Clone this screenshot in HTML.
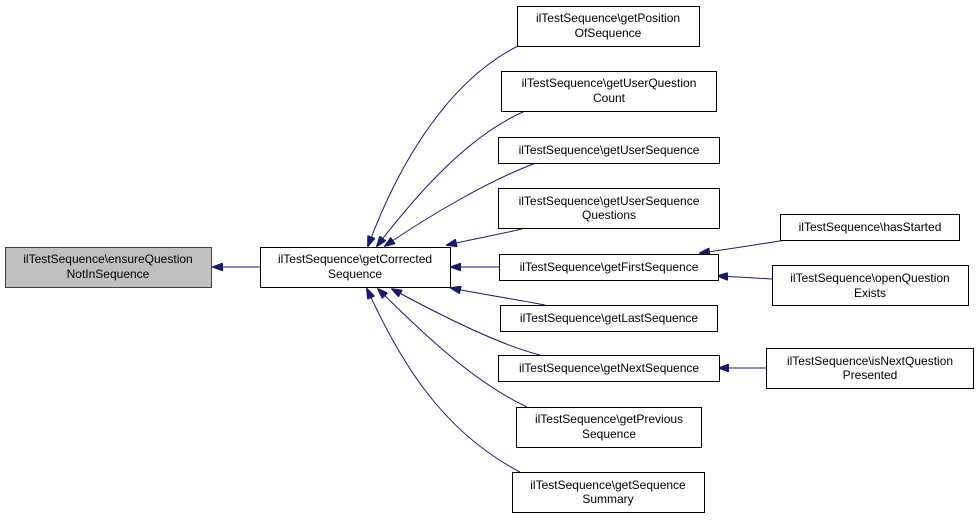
<!DOCTYPE html>
<html><head><meta charset="utf-8"><style>
html,body{margin:0;padding:0;background:#fff;}
svg text{font-family:"Liberation Sans",Arial,sans-serif;font-size:12px;fill:#000;}
</style></head><body>
<svg width="979" height="519" viewBox="0 0 979 519" xmlns="http://www.w3.org/2000/svg">
<defs>
<marker id="a" markerWidth="11" markerHeight="8" refX="10" refY="4" orient="auto" markerUnits="userSpaceOnUse">
<path d="M0,0 L11,4 L0,8 Z" fill="#191970" stroke="#191970"/>
</marker>
</defs>
<g fill="none" stroke="#191970" stroke-width="1" marker-end="url(#a)">
<path d="M260,267 L213,267"/>
<path d="M518,46 C450,80 400,160 368,246"/>
<path d="M525,111 C470,135 420,190 377,246"/>
<path d="M536,163 C490,180 430,215 385,246"/>
<path d="M522,229 C500,234 475,239 447,245"/>
<path d="M499,267 L451,267"/>
<path d="M545,305 C520,300 480,294 451,288"/>
<path d="M540,355 C500,345 440,315 392,289"/>
<path d="M527,407 C470,380 420,330 378,289"/>
<path d="M520,472 C440,430 400,360 367,289"/>
<path d="M786,240 C760,244 730,249 700,253"/>
<path d="M772,279 C755,278 740,277 718,276"/>
<path d="M766,368 L719,368"/>
</g>
<g stroke="#000" stroke-width="1">
<rect x="5.5" y="247.5" width="206" height="40" fill="#bfbfbf" stroke="#404040"/>
<rect x="260.5" y="247.5" width="190" height="40" fill="#fff"/>
<rect x="517.5" y="6.5" width="182" height="40" fill="#fff"/>
<rect x="501.5" y="71.5" width="215" height="40" fill="#fff"/>
<rect x="498.5" y="137.5" width="221" height="26" fill="#fff"/>
<rect x="498.5" y="188.5" width="221" height="40" fill="#fff"/>
<rect x="499.5" y="254.5" width="219" height="26" fill="#fff"/>
<rect x="500.5" y="305.5" width="217" height="26" fill="#fff"/>
<rect x="498.5" y="355.5" width="221" height="26" fill="#fff"/>
<rect x="516.5" y="407.5" width="185" height="40" fill="#fff"/>
<rect x="512.5" y="472.5" width="192" height="40" fill="#fff"/>
<rect x="780.5" y="214.5" width="179" height="26" fill="#fff"/>
<rect x="772.5" y="265.5" width="196" height="40" fill="#fff"/>
<rect x="766.5" y="348.5" width="207" height="40" fill="#fff"/>
</g>
<g text-anchor="middle">
<text x="108" y="263">ilTestSequence\ensureQuestion</text><text x="108" y="278">NotInSequence</text>
<text x="355" y="263">ilTestSequence\getCorrected</text><text x="355" y="278">Sequence</text>
<text x="608" y="22">ilTestSequence\getPosition</text><text x="608" y="37">OfSequence</text>
<text x="609" y="87">ilTestSequence\getUserQuestion</text><text x="609" y="102">Count</text>
<text x="609" y="154">ilTestSequence\getUserSequence</text>
<text x="609" y="205">ilTestSequence\getUserSequence</text><text x="609" y="219">Questions</text>
<text x="609" y="271">ilTestSequence\getFirstSequence</text>
<text x="609" y="322">ilTestSequence\getLastSequence</text>
<text x="609" y="372">ilTestSequence\getNextSequence</text>
<text x="609" y="423">ilTestSequence\getPrevious</text><text x="609" y="438">Sequence</text>
<text x="608" y="489">ilTestSequence\getSequence</text><text x="608" y="503">Summary</text>
<text x="870" y="231">ilTestSequence\hasStarted</text>
<text x="870" y="282">ilTestSequence\openQuestion</text><text x="870" y="297">Exists</text>
<text x="870" y="365">ilTestSequence\isNextQuestion</text><text x="870" y="379">Presented</text>
</g>
</svg>
</body></html>
